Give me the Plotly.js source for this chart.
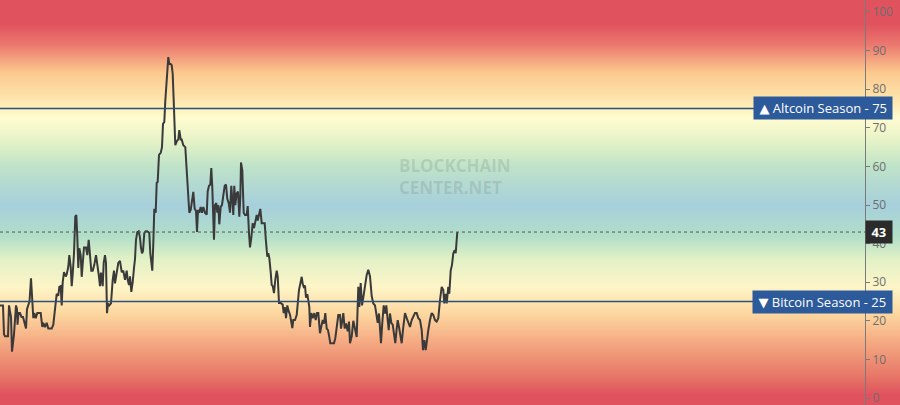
<!DOCTYPE html>
<html>
<head>
<meta charset="utf-8">
<script src="https://cdn.plot.ly/plotly-3.0.1.min.js"></script>
<style>
html,body{margin:0;padding:0;background:#fff;}
#chart{width:900px;height:405px;}
</style>
</head>
<body>
<div id="chart"></div>
<script>
// Time index (period number) and Altcoin Season Index values
const period = [0,3,4,5,8,9,11,12,14,16,17,17.5,18.5,20,21.5,23,24,26,27,28,29.5,31,32.3,33.3,34.3,35.7,37.3,39.3,40.7,42.3,43.3,45,46.7,48.3,50,51.7,53.3,54.3,55.7,56.7,58.3,59.3,60.7,61.7,62.7,64,65.7,66.7,68.3,69.3,70.7,71.7,72.7,74,75.3,76.3,77.3,78.3,79.3,80.7,81.7,82.7,84,86,87.3,88.7,90,91.3,92.7,94.3,96,97.3,98.7,100,101,102.7,103.7,105,106,107,108,109.3,111,112.7,114,115,116.7,118.3,120,121.7,123.3,125,126.7,127.7,129,130,131.3,132.7,134,135,136,137.3,138.7,140,141,142,143,144.3,145.7,147,148.3,149.3,150.3,151.3,152.3,153.3,154.3,155.7,156.7,157.7,159,160.7,162,163,164.3,165.3,166.7,168.3,169.3,170.7,171.7,172.7,173.7,174.3,175.3,176.7,178.3,179.3,180.7,181.7,183.3,185.3,186.7,188.3,189.3,190.7,192,193.3,194.7,196,197,198,199.3,200.7,202,203.3,205,206.7,207.7,209,210.3,211.3,212.3,213.3,214,215,216.3,217.3,218.3,219.3,220.7,222,223.3,224.7,226,227.3,228.7,230,231.3,232.3,233.3,234.3,235.3,236.7,238,239.3,240.3,241,242.3,243.7,245,246.7,247.7,249,250,251.3,252.7,254,255,256.7,257.7,259,260.3,261.7,263.3,264.7,265.7,267.3,268.3,269.3,270.7,271.7,272.7,274,275.3,276.7,277.7,279,280.7,282.7,283.7,285,286,287.3,288.7,290,291.3,292.3,293.3,295,296.7,298,299,300.3,301.7,302.7,303.7,305,306,307.3,308.3,309.3,310,311.3,312.7,314.3,315.7,317,318.3,320,321.3,322.7,324,325.3,326.7,328,329.3,330.3,332,334,335.3,336.7,338.3,340,341,342.3,343.3,344.7,346,347.7,349,350,351.7,353.3,355,356.7,358.3,359.3,360.7,362,363.3,365,366.7,368.3,370,371.7,373.3,375,376.7,377.7,379,380,381,382.3,383.7,385,386.3,387.7,388.7,390,391.3,392.7,394,395.3,396.7,397.7,399,400.3,401.7,403.3,405,406.7,408.3,410,411.7,413.3,415,416.7,418.3,420,421.7,423,424.3,425.7,427,428.3,430,431.7,433.3,435,436.7,438.3,440,441.7,443.3,444.3,445.7,446.7,448.3,449.3,450.7,452,453.3,454.7,455.7,456.5,457.3];
const indexValue = [24,24,16.5,16,16,24,21,12,16.5,24,23,19,22,22,21,21,20,18,23,24,25,31,25,20.7,22,20.7,22,22,22,18.4,19.5,18.4,19.5,18,18,18,19,21,24,27,26.5,28.8,29,24,30,32.6,31.5,32,34,37,34,29,32,37.5,47,47.4,41.8,33.7,38.8,37,31.4,35,39,39,37,41,37,33,33,34.5,37,35,32,29,32.5,29,35,37,35,22,24.5,24,24.5,30.6,33,29.7,33,35,35.5,32.6,33,30.6,33,30.6,29.3,31.5,27.5,30,33.7,36,41,43,43.2,41.5,38.9,37.5,38,42.7,43.2,43.2,43,42.7,37.5,35,33,40,49,48,55.7,56,63,63.5,65,71,71.5,77,84,88.3,86.5,86.5,86.2,84,77,70,65.5,66.5,67,69.4,67,67,65.5,65,59,53,48,48.7,51.6,53.4,49,48.5,43,48.7,48,49.5,48,49.5,48,47.5,53.5,55,55.3,59.6,54.5,48,41,50,50.5,48,50,45,49.5,50,52.5,55,55.3,51.6,50.5,48,55,51,47.4,55,50,53,53.5,47,52,61,59,48,47.4,47.4,49.7,42.7,39,41.5,45.3,44,45.3,47.4,46,47.8,49,45.3,45.3,45.3,41.5,36.6,37.5,36.3,32.6,29.3,29,27.2,30.7,33,31.5,24.6,24.6,24.2,22,23.5,20.7,24,22.5,21.6,19.7,18.1,20.2,20.2,21.5,25.4,28,29.6,31.4,29.6,28.8,29.1,26,26.9,24.5,23.6,18.4,22,20.7,22,20.2,22,22,16.8,18.5,20.2,19.3,22,18,17.6,15.8,14.2,14.2,14.2,15.5,19,21.5,21.5,18,20,22,18,19.3,17.3,19.8,14.2,16,20,18.2,15.8,28.8,23.6,29.8,24,26,29,31.9,33.2,31.5,26.4,24.5,24,21.6,19.5,21.9,18.4,14.2,19.5,24,21.9,24,20.2,17.6,21.9,19.5,19,16,14.2,18,20.2,18.4,16,14.2,18.4,22,20.7,19.5,18.4,20.2,21,22,22,20.7,20.2,17.6,12.4,15,12.4,16,17.6,20.2,22,21.5,20.2,19.8,20.7,25.4,28.8,28,24.5,27,24.5,28.8,27,33,34.5,37.5,38.3,37.5,40.5,43];

// Background colour bands (index level -> colour)
const bandLevels = [-3,1,6,14,22,29,36,42,50,60,67,72.5,77,84.5,91.5,97,105];
const bandColors = ['#e0535e','#e0535e','#e77868','#f4a680','#fdd8a0','#fdf5c8','#e2f1c6','#b2dfc8','#a6cfdc','#bfe3c8','#e8f3c7','#fefcd0','#fde7b0','#fbc98e','#ec7a70','#e0535e','#e0535e'];

const tickValues = [0,10,20,30,40,50,60,70,80,90,100];
const altcoinLevel = 75, bitcoinLevel = 25;
const currentValue = 43;

const bgZ = bandLevels.map((_, i) => [i, i]);
const cs = bandColors.map((c, i) => [i / (bandColors.length - 1), c]);

const traces = [
  {
    type: 'heatmap', x: [-20, 920], y: bandLevels, z: bgZ,
    colorscale: cs, zmin: 0, zmax: bandColors.length - 1,
    zsmooth: 'best', showscale: false, hoverinfo: 'skip'
  },
  {
    type: 'scatter', mode: 'lines', x: period, y: indexValue,
    line: {color: '#3a3a3a', width: 2}, hoverinfo: 'y', showlegend: false
  }
];

const axisPos = 865 / 900;
const NB = '\u00a0';
const labelFont = {family: 'Open Sans, DejaVu Sans, sans-serif', size: 13, color: '#ffffff'};

const layout = {
  width: 900, height: 405,
  margin: {l: 0, r: 0, t: 0, b: 0},
  paper_bgcolor: '#ffffff', plot_bgcolor: '#ffffff',
  showlegend: false,
  xaxis: {range: [0, 900], visible: false, fixedrange: true},
  yaxis: {
    range: [-1.8, 103.1], anchor: 'free', position: axisPos, side: 'right',
    tickvals: tickValues, ticks: 'outside', ticklen: 4, tickcolor: '#7a7a7a',
    showline: true, linecolor: '#7a7a7a', linewidth: 1,
    showgrid: false, zeroline: false, ticklabeloverflow: 'allow',
    tickfont: {family: 'Open Sans, DejaVu Sans, sans-serif', size: 12, color: '#6e6e6e'}
  },
  shapes: [
    {type: 'line', xref: 'paper', x0: 0, x1: axisPos, yref: 'y', y0: altcoinLevel, y1: altcoinLevel,
     line: {color: '#2f5079', width: 1.5}},
    {type: 'line', xref: 'paper', x0: 0, x1: axisPos, yref: 'y', y0: bitcoinLevel, y1: bitcoinLevel,
     line: {color: '#2f5079', width: 1.5}},
    {type: 'line', xref: 'paper', x0: 0, x1: axisPos, yref: 'y', y0: currentValue, y1: currentValue,
     line: {color: '#555555', width: 1, dash: 'dot'}}
  ],
  annotations: [
    {xref: 'paper', x: 893 / 900, xanchor: 'right', yref: 'y', y: altcoinLevel, yanchor: 'middle',
     text: NB + '▲ Altcoin Season - ' + altcoinLevel + NB, showarrow: false,
     font: labelFont, bgcolor: '#2c5a9a', borderpad: 2},
    {xref: 'paper', x: 893 / 900, xanchor: 'right', yref: 'y', y: bitcoinLevel, yanchor: 'middle',
     text: NB + '▼ Bitcoin Season - ' + bitcoinLevel + NB, showarrow: false,
     font: labelFont, bgcolor: '#2c5a9a', borderpad: 2},
    {xref: 'paper', x: 893 / 900, xanchor: 'right', yref: 'y', y: currentValue, yanchor: 'middle',
     text: NB + '<b>' + currentValue + '</b>' + NB, showarrow: false,
     font: labelFont, bgcolor: '#2b2b2b', borderpad: 2},
    {xref: 'x', x: 397, xanchor: 'left', yref: 'y', y: 57.5, yanchor: 'middle',
     text: '<b>BLOCKCHAIN<br>CENTER.NET</b>', showarrow: false, align: 'left',
     font: {family: 'Open Sans, DejaVu Sans, sans-serif', size: 17, color: 'rgba(110,120,120,0.22)'}}
  ]
};

Plotly.newPlot('chart', traces, layout, {displayModeBar: false, staticPlot: true});
</script>
</body>
</html>
